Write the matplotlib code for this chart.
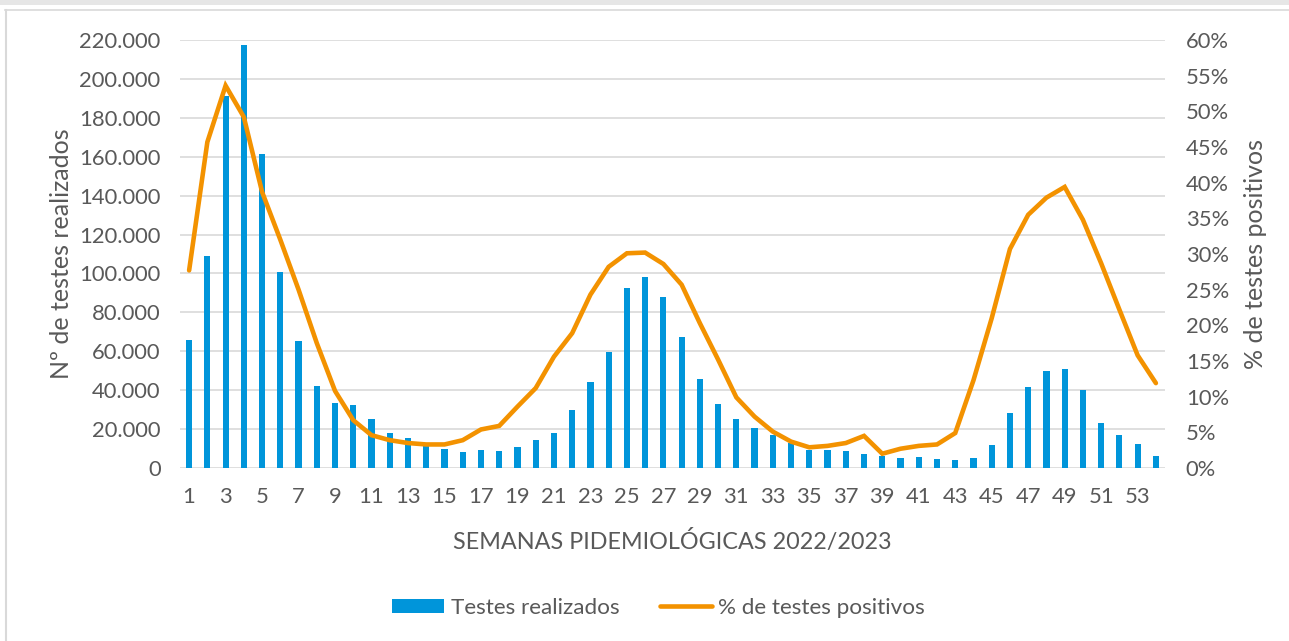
import matplotlib
matplotlib.use("Agg")
import matplotlib.pyplot as plt
import matplotlib.patches as patches
from matplotlib.lines import Line2D
from matplotlib.ticker import FuncFormatter, MultipleLocator

plt.rcParams["font.family"] = ["Lato", "DejaVu Sans"]

weeks = list(range(1, 55))
tests_done = [
    66000, 109000, 191000, 217500, 161400, 100600, 65300, 42200, 33600, 32200,
    25200, 18000, 15300, 12500, 9600, 8400, 9300, 8900, 10800, 14400,
    18000, 29600, 44200, 59800, 92500, 98200, 87900, 67200, 45800, 32700,
    25000, 20700, 17000, 12700, 9300, 9400, 8700, 7000, 6200, 4900,
    5500, 4500, 4000, 5300, 11800, 28400, 41800, 50000, 50900, 40100,
    23300, 17000, 12200, 6200,
]
pct_positive = [
    27.7, 45.7, 53.6, 49.2, 38.7, 32.0, 25.0, 17.5, 10.8, 6.7,
    4.6, 3.9, 3.5, 3.3, 3.3, 3.9, 5.4, 5.9, 8.6, 11.2,
    15.6, 18.9, 24.3, 28.2, 30.1, 30.2, 28.6, 25.7, 20.3, 15.2,
    9.9, 7.2, 5.1, 3.7, 2.9, 3.1, 3.5, 4.5, 2.0, 2.7,
    3.1, 3.3, 4.9, 12.3, 21.0, 30.7, 35.5, 37.9, 39.4, 34.8,
    28.7, 22.2, 15.8, 11.9,
]

BLUE = "#0095da"
ORANGE = "#f39200"
TXT = "#595959"
GRID = "#d9d9d9"

fig = plt.figure(figsize=(12.89, 6.41), dpi=100)
fig.patch.set_facecolor("white")

# grey band at the top and the thin chart-area border
fig.add_artist(patches.Rectangle((0, 1 - 5 / 641), 1, 5 / 641, transform=fig.transFigure,
                                 facecolor="#e6e6e6", edgecolor="none"))
fig.add_artist(Line2D([5 / 1289, 1], [1 - 10 / 641] * 2, transform=fig.transFigure,
                      color=GRID, lw=1.2))
fig.add_artist(Line2D([5.5 / 1289] * 2, [0, 1 - 10 / 641], transform=fig.transFigure,
                      color=GRID, lw=1.5))

ax = fig.add_axes([180 / 1289, 1 - 468 / 641, 985 / 1289, 428 / 641])
ax2 = ax.twinx()

ax.bar(weeks, tests_done, width=0.34, color=BLUE, zorder=2)
ax2.plot(weeks, pct_positive, color=ORANGE, lw=3.3, solid_capstyle="round",
         solid_joinstyle="miter", zorder=3)

ax.set_xlim(0.5, 54.5)
ax.set_ylim(0, 220000)
ax2.set_ylim(0, 60)
ax.yaxis.set_major_locator(MultipleLocator(20000))
ax2.yaxis.set_major_locator(MultipleLocator(5))
ax.yaxis.set_major_formatter(FuncFormatter(lambda v, p: f"{int(v):,}".replace(",", ".")))
ax2.yaxis.set_major_formatter(FuncFormatter(lambda v, p: f"{int(v)}%"))
ax.set_xticks(weeks[::2])

ax.grid(axis="y", color=GRID, lw=1.2, zorder=0)
ax.set_axisbelow(True)
for a in (ax, ax2):
    for s in a.spines.values():
        s.set_visible(False)
    a.tick_params(length=0, colors=TXT, labelsize=15.8)
ax.tick_params(axis="y", pad=14)
ax.tick_params(axis="x", pad=14)
ax2.tick_params(axis="y", pad=15)

ax.set_ylabel("Nº de testes realizados", fontsize=18, color=TXT, labelpad=4)
ax2.set_ylabel("% de testes positivos", fontsize=18, color=TXT, labelpad=11)
ax.set_xlabel("SEMANAS PIDEMIOLÓGICAS 2022/2023", fontsize=16.8, color=TXT, labelpad=16)

handles = [
    patches.Patch(facecolor=BLUE, label="Testes realizados"),
    Line2D([0], [0], color=ORANGE, lw=3.3, solid_capstyle="round", label="% de testes positivos"),
]
fig.legend(handles=handles, loc="center", bbox_to_anchor=(0.511, 1 - 608 / 641), ncol=2,
           frameon=False, fontsize=16.2, labelcolor=TXT, handlelength=2.3,
           handleheight=0.6, handletextpad=0.3, columnspacing=1.8)

fig.savefig("out.png", dpi=100, facecolor="white")
